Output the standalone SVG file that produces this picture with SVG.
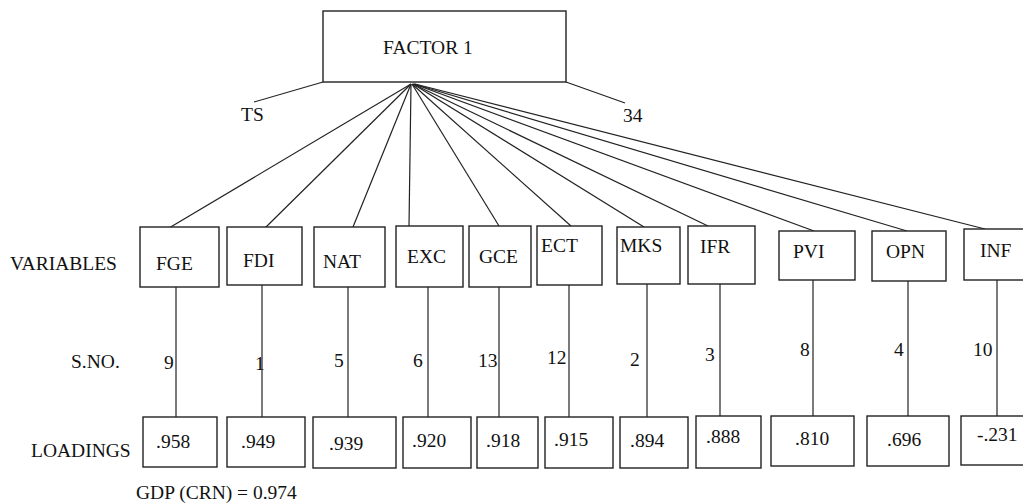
<svg xmlns="http://www.w3.org/2000/svg" width="1023" height="503" viewBox="0 0 1023 503">
<style>
rect{fill:#fff;stroke:#222;stroke-width:1.4}
line{stroke:#222;stroke-width:1.2}
text{font-family:"Liberation Serif","Times New Roman","DejaVu Serif",serif;font-size:19.5px;fill:#111}
</style>
<rect x="0" y="0" width="1023" height="503" style="stroke:none"/>
<g id="connectors">
<line x1="323" y1="82" x2="254" y2="102"/>
<line x1="566" y1="82" x2="625" y2="103"/>
<line x1="411" y1="84" x2="169" y2="228"/>
<line x1="411" y1="84" x2="265" y2="228"/>
<line x1="411" y1="84" x2="353" y2="227"/>
<line x1="411" y1="84" x2="409" y2="226"/>
<line x1="412" y1="84" x2="499" y2="226"/>
<line x1="412" y1="84" x2="571" y2="226"/>
<line x1="413" y1="84" x2="644" y2="227"/>
<line x1="413" y1="84" x2="708" y2="226"/>
<line x1="414" y1="84" x2="814" y2="231"/>
<line x1="414" y1="84" x2="907" y2="231"/>
<line x1="415" y1="84" x2="985" y2="229"/>
<line x1="176" y1="287" x2="176" y2="417"/>
<line x1="262" y1="285" x2="262" y2="417"/>
<line x1="348" y1="287" x2="348" y2="417"/>
<line x1="428" y1="287" x2="428" y2="417"/>
<line x1="499" y1="287" x2="499" y2="417"/>
<line x1="569" y1="285" x2="569" y2="417"/>
<line x1="647" y1="284" x2="647" y2="417"/>
<line x1="720" y1="284" x2="720" y2="416"/>
<line x1="813" y1="280" x2="813" y2="416"/>
<line x1="908" y1="281" x2="908" y2="416"/>
<line x1="997" y1="280" x2="997" y2="416"/>
</g>
<g id="factor1"><rect x="323" y="11" width="243" height="71"/><text x="383" y="54">FACTOR 1</text></g>
<g id="labels">
<text x="241" y="121">TS</text>
<text x="623" y="122">34</text>
<text x="10" y="270">VARIABLES</text>
<text x="71" y="368">S.NO.</text>
<text x="31" y="457">LOADINGS</text>
<text x="136" y="499">GDP (CRN) = 0.974</text>
</g>
<g id="var-FGE"><rect x="140" y="227" width="79" height="60"/><text x="156" y="270">FGE</text></g>
<g id="var-FDI"><rect x="227" y="227" width="75" height="58"/><text x="243" y="267">FDI</text></g>
<g id="var-NAT"><rect x="314" y="227" width="71" height="60"/><text x="323" y="268">NAT</text></g>
<g id="var-EXC"><rect x="396" y="226" width="67" height="61"/><text x="407" y="263">EXC</text></g>
<g id="var-GCE"><rect x="469" y="226" width="62" height="61"/><text x="479" y="263">GCE</text></g>
<g id="var-ECT"><rect x="537" y="226" width="65" height="59"/><text x="541" y="252">ECT</text></g>
<g id="var-MKS"><rect x="617" y="227" width="63" height="57"/><text x="620" y="252">MKS</text></g>
<g id="var-IFR"><rect x="688" y="226" width="67" height="58"/><text x="700" y="253">IFR</text></g>
<g id="var-PVI"><rect x="779" y="231" width="76" height="49"/><text x="793" y="258">PVI</text></g>
<g id="var-OPN"><rect x="872" y="231" width="74" height="50"/><text x="886" y="258">OPN</text></g>
<g id="var-INF"><rect x="964" y="229" width="66" height="51"/><text x="980" y="257">INF</text></g>
<g id="sno">
<text x="164" y="369">9</text>
<text x="255" y="370">1</text>
<text x="334" y="367">5</text>
<text x="413" y="367">6</text>
<text x="478" y="367">13</text>
<text x="547" y="364">12</text>
<text x="630" y="366">2</text>
<text x="705" y="361">3</text>
<text x="800" y="356">8</text>
<text x="894" y="356">4</text>
<text x="973" y="356">10</text>
</g>
<g id="load-FGE"><rect x="143" y="417" width="74" height="50"/><text x="156" y="448">.958</text></g>
<g id="load-FDI"><rect x="227" y="417" width="78" height="50"/><text x="241" y="448">.949</text></g>
<g id="load-NAT"><rect x="313" y="417" width="83" height="51"/><text x="329" y="450">.939</text></g>
<g id="load-EXC"><rect x="403" y="417" width="68" height="51"/><text x="412" y="447">.920</text></g>
<g id="load-GCE"><rect x="477" y="417" width="61" height="51"/><text x="486" y="447">.918</text></g>
<g id="load-ECT"><rect x="545" y="417" width="68" height="51"/><text x="554" y="446">.915</text></g>
<g id="load-MKS"><rect x="620" y="417" width="68" height="51"/><text x="630" y="447">.894</text></g>
<g id="load-IFR"><rect x="696" y="416" width="65" height="52"/><text x="706" y="443">.888</text></g>
<g id="load-PVI"><rect x="771" y="416" width="83" height="50"/><text x="795" y="445">.810</text></g>
<g id="load-OPN"><rect x="867" y="416" width="82" height="50"/><text x="887" y="446">.696</text></g>
<g id="load-INF"><rect x="961" y="416" width="70" height="49"/><text x="977" y="441">-.231</text></g>
</svg>
